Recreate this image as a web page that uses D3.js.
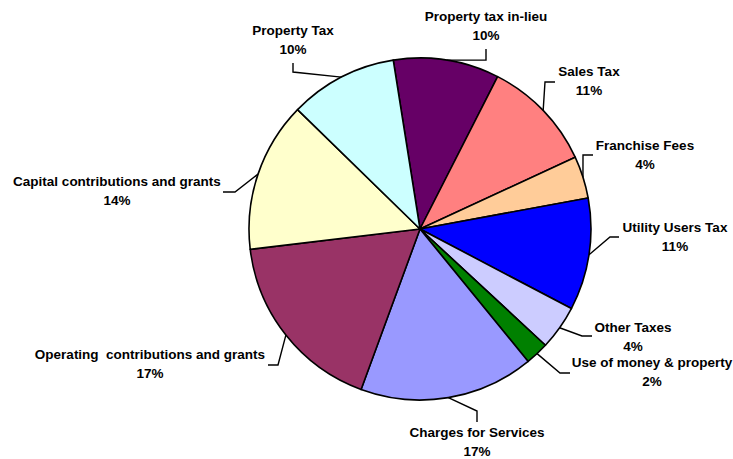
<!DOCTYPE html>
<html>
<head>
<meta charset="utf-8">
<script src="https://cdn.jsdelivr.net/npm/d3@7"></script>
<style>
  body { margin: 0; background: #fff; }
  text { font-family: Arial, "Liberation Sans", sans-serif; font-weight: bold; font-size: 13.5px; fill: #000; }
</style>
</head>
<body>
<div id="chart"></div>
<script>
// slice names, clockwise from the top
const categories = [
    "Property tax in-lieu",
    "Sales Tax",
    "Franchise Fees",
    "Utility Users Tax",
    "Other Taxes",
    "Use of money & property",
    "Charges for Services",
    "Operating  contributions and grants",
    "Capital contributions and grants",
    "Property Tax"
];
// share of revenue, percent
const values = [10.0, 10.6, 4.0, 10.6, 4.2, 2.2, 16.5, 17.5, 14.2, 10.2];
const percentLabels = ["10%", "11%", "4%", "11%", "4%", "2%", "17%", "17%", "14%", "10%"];
const colors = ["#660066", "#FF8080", "#FFCC99", "#0000FF", "#CCCCFF",
                "#008000", "#9999FF", "#993366", "#FFFFCC", "#CCFFFF"];

// label layout: text centre x, first baseline y, leader start and elbow
const labelLayout = [
    { x: 486, y: 21,  p0: [486, 49],  p1: [486, 60] },
    { x: 589, y: 76,  p0: [555, 82],  p1: [545, 82] },
    { x: 645, y: 150, p0: [593, 155], p1: [583, 155] },
    { x: 675, y: 232, p0: [619, 237], p1: [610, 237] },
    { x: 633, y: 332, p0: [592, 336], p1: [582, 336] },
    { x: 652, y: 367, p0: [570, 373], p1: [560, 373] },
    { x: 477, y: 437, p0: [477, 422], p1: [477, 411] },
    { x: 150, y: 359, p0: [268, 365], p1: [278, 365] },
    { x: 117, y: 186, p0: [223, 192], p1: [235, 192] },
    { x: 293, y: 35,  p0: [293, 63],  p1: [293, 72] }
];

const width = 733, height = 459;
const cx = 420, cy = 229, radius = 171;
const lineGap = 19;

const data = categories.map((c, i) => ({ name: c, value: values[i], pct: percentLabels[i], color: colors[i], lay: labelLayout[i] }));

const svg = d3.select("#chart")
    .append("svg")
        .attr("width", width)
        .attr("height", height);

const pie = d3.pie()
    .sort(null)
    .value(d => d.value)
    .startAngle(-9 * Math.PI / 180)
    .endAngle(351 * Math.PI / 180);

const arc = d3.arc()
    .innerRadius(0)
    .outerRadius(radius);

const arcs = pie(data);

const g = svg.append("g")
    .attr("transform", `translate(${cx},${cy})`);

g.selectAll("path.slice")
    .data(arcs)
    .enter()
    .append("path")
        .attr("class", "slice")
        .attr("d", arc)
        .attr("fill", d => d.data.color)
        .attr("stroke", "#000")
        .attr("stroke-width", 1.6)
        .attr("stroke-linejoin", "round");

// leader lines: label -> elbow -> edge of slice at its mid angle
svg.selectAll("polyline.leader")
    .data(arcs)
    .enter()
    .append("polyline")
        .attr("class", "leader")
        .attr("fill", "none")
        .attr("stroke", "#000")
        .attr("stroke-width", 1.4)
        .attr("points", d => {
            let mid = (d.startAngle + d.endAngle) / 2;
            let ex = cx + radius * Math.sin(mid);
            let ey = cy - radius * Math.cos(mid);
            let lay = d.data.lay;
            return [lay.p0, lay.p1, [ex, ey]].map(p => p.join(",")).join(" ");
        });

const labels = svg.selectAll("g.label")
    .data(arcs)
    .enter()
    .append("g")
        .attr("class", "label");

labels.append("text")
    .attr("x", d => d.data.lay.x)
    .attr("y", d => d.data.lay.y)
    .attr("text-anchor", "middle")
    .text(d => d.data.name)
    .style("white-space", "pre");

labels.append("text")
    .attr("x", d => d.data.lay.x)
    .attr("y", d => d.data.lay.y + lineGap)
    .attr("text-anchor", "middle")
    .text(d => d.data.pct);
</script>
</body>
</html>
